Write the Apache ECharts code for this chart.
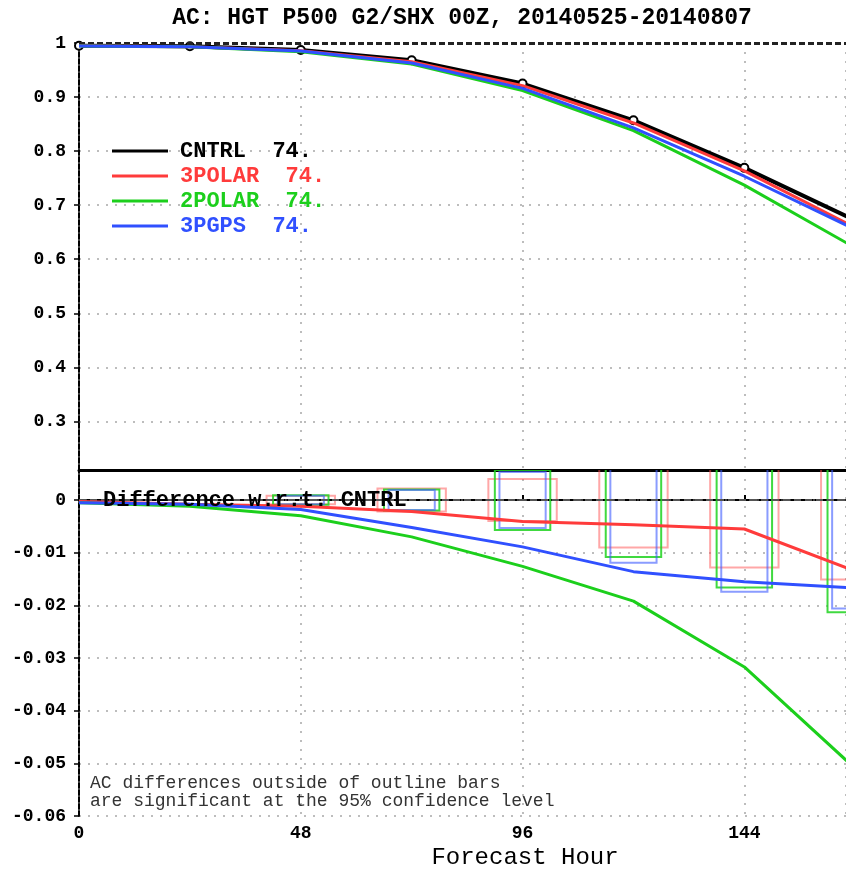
<!DOCTYPE html>
<html>
<head>
<meta charset="utf-8">
<script src="https://cdn.jsdelivr.net/npm/echarts@6/dist/echarts.min.js"></script>
<style>
  html, body { margin: 0; padding: 0; background: #fff; }
  #main { width: 846px; height: 869px; }
</style>
</head>
<body>
<div id="main"></div>
<script>
// forecast hours
var hours = [0, 24, 48, 72, 96, 120, 144, 168];

// anomaly correlation (top panel)
var cntrlAC  = [0.995, 0.994, 0.987, 0.968, 0.925, 0.857, 0.769, 0.672];
var polar3AC = [0.995, 0.993, 0.9855, 0.9655, 0.921, 0.852, 0.7635, 0.6585];
var polar2AC = [0.9945, 0.993, 0.984, 0.961, 0.912, 0.838, 0.737, 0.621];
var pgps3AC  = [0.9945, 0.993, 0.985, 0.963, 0.916, 0.843, 0.7535, 0.655];

// differences w.r.t. CNTRL (bottom panel)
var polar3Diff = [-0.0003, -0.0008, -0.0012, -0.0022, -0.0041, -0.0047, -0.0055, -0.0135];
var polar2Diff = [-0.0005, -0.0012, -0.003, -0.007, -0.0126, -0.0192, -0.0317, -0.051];
var pgps3Diff  = [-0.0005, -0.0008, -0.0018, -0.0052, -0.0089, -0.0136, -0.0155, -0.0167];

// 95% significance bars (half range around zero)
var boxHours   = [48, 72, 96, 120, 144, 168];
var polar3Bar  = [0.0008, 0.0022, 0.004, 0.009, 0.0128, 0.0151];
var polar2Bar  = [0.0009, 0.002, 0.0057, 0.0108, 0.0166, 0.0213];
var pgps3Bar   = [0.0008, 0.0019, 0.0053, 0.0119, 0.0174, 0.0206];

var legendCount = '74.';

var RED = '#ff3b3b', GREEN = '#1ccf1c', BLUE = '#3050ff';
var FONT = '"Liberation Mono", "DejaVu Sans Mono", monospace';

function pairs(xs, ys) {
  return xs.map(function (x, i) { return [x, ys[i]]; });
}

function barSeries(name, half, vals, color) {
  return {
    name: name,
    type: 'custom',
    xAxisIndex: 1,
    yAxisIndex: 1,
    clip: true,
    silent: true,
    z: 3,
    data: boxHours.map(function (h, i) { return [h, -vals[i], vals[i]]; }),
    encode: { x: 0, y: [1, 2] },
    renderItem: function (params, api) {
      var h = api.value(0);
      var a = api.coord([h - half, api.value(2)]);
      var b = api.coord([h + half, api.value(1)]);
      return {
        type: 'rect',
        shape: { x: a[0], y: a[1], width: b[0] - a[0], height: b[1] - a[1] },
        style: { fill: 'none', stroke: color, lineWidth: 2 }
      };
    }
  };
}

function lineSeries(name, data, color, axis) {
  return {
    name: name,
    type: 'line',
    xAxisIndex: axis,
    yAxisIndex: axis,
    data: pairs(hours, data),
    showSymbol: false,
    symbol: 'none',
    lineStyle: { color: color, width: 3 },
    itemStyle: { color: color },
    z: 5
  };
}

var chart = echarts.init(document.getElementById('main'));

var dotted = { show: true, lineStyle: { color: '#bdbdbd', type: [2, 7], width: 2 } };
var tickLabel = { fontFamily: FONT, fontWeight: 'bold', fontSize: 18, color: '#000' };

var option = {
  animation: false,
  backgroundColor: '#fff',
  grid: [
    { left: 79, top: 43, width: 767, height: 427 },
    { left: 79, top: 470, width: 767, height: 346 }
  ],
  xAxis: [
    {
      gridIndex: 0, type: 'value', min: 0, max: 166, interval: 48,
      axisLine: { show: true, lineStyle: { color: '#000', width: 3 } },
      axisTick: { show: false },
      axisLabel: { show: false },
      splitLine: dotted
    },
    {
      gridIndex: 1, type: 'value', min: 0, max: 166, interval: 48,
      axisLine: { show: true, lineStyle: { color: '#000', width: 2, type: [6, 2] } },
      axisTick: { show: true, inside: true, length: 5, lineStyle: { color: '#000', width: 2 } },
      axisLabel: Object.assign({ margin: 8 }, tickLabel, { showMaxLabel: false }),
      splitLine: dotted
    }
  ],
  yAxis: [
    {
      gridIndex: 0, type: 'value', min: 0.21, max: 1, splitNumber: 8,
      axisLine: { show: true, lineStyle: { color: '#000', width: 2, type: [5, 2] } },
      axisTick: { show: true, length: 5, lineStyle: { color: '#000', width: 1.5 } },
      axisLabel: Object.assign({ margin: 13, showMinLabel: false }, tickLabel),
      splitLine: dotted
    },
    {
      gridIndex: 1, type: 'value', min: -0.06, max: 0.0057, splitNumber: 7,
      axisLine: { show: true, lineStyle: { color: '#000', width: 2, type: [5, 2] } },
      axisTick: { show: true, length: 5, lineStyle: { color: '#000', width: 1.5 } },
      axisLabel: Object.assign({
        margin: 13, showMaxLabel: false,
        formatter: function (v) { return Math.abs(v) < 1e-9 ? '0' : v.toFixed(2); }
      }, tickLabel),
      splitLine: dotted
    }
  ],
  legend: {
    orient: 'vertical',
    left: 112,
    top: 140,
    padding: 0,
    icon: 'rect',
    itemWidth: 56,
    itemHeight: 3,
    itemGap: 3,
    selectedMode: false,
    formatter: function (name) { return name + '  ' + legendCount; },
    textStyle: { fontFamily: FONT, fontWeight: 'bold', fontSize: 22, padding: [0, 0, 0, 7] },
    data: [
      { name: 'CNTRL', itemStyle: { color: '#000', borderWidth: 0 }, textStyle: { color: '#000' } },
      { name: '3POLAR', itemStyle: { color: RED }, textStyle: { color: RED } },
      { name: '2POLAR', itemStyle: { color: GREEN }, textStyle: { color: GREEN } },
      { name: '3PGPS', itemStyle: { color: BLUE }, textStyle: { color: BLUE } }
    ]
  },
  graphic: [
    {
      type: 'text', x: 462, y: 18,
      style: {
        text: 'AC: HGT P500 G2/SHX 00Z, 20140525-20140807', font: 'bold 23px ' + FONT,
        fill: '#000', align: 'center', verticalAlign: 'middle'
      }
    },
    {
      type: 'text', x: 103, y: 500, z: 100,
      style: { text: 'Difference w.r.t. CNTRL', font: 'bold 22px ' + FONT, fill: '#000', verticalAlign: 'middle' }
    },
    {
      type: 'text', x: 90, y: 774, z: 100,
      style: {
        text: 'AC differences outside of outline bars\nare significant at the 95% confidence level',
        font: '18px ' + FONT, fill: '#333', lineHeight: 18
      }
    },
    {
      type: 'text', x: 525, y: 858, z: 100,
      style: { text: 'Forecast Hour', font: '24px ' + FONT, fill: '#000', align: 'center', verticalAlign: 'middle' }
    }
  ],
  series: [
    {
      name: 'CNTRL',
      type: 'line',
      xAxisIndex: 0,
      yAxisIndex: 0,
      data: pairs(hours, cntrlAC),
      symbol: 'emptyCircle',
      symbolSize: 8,
      showSymbol: true,
      lineStyle: { color: '#000', width: 4 },
      itemStyle: { color: '#000', borderColor: '#000', borderWidth: 2.5 },
      z: 4,
      markLine: {
        silent: true, symbol: 'none', label: { show: false },
        lineStyle: { color: '#222', type: [6, 3], width: 3 },
        data: [{ yAxis: 1 }]
      }
    },
    lineSeries('3POLAR', polar3AC, RED, 0),
    lineSeries('2POLAR', polar2AC, GREEN, 0),
    lineSeries('3PGPS', pgps3AC, BLUE, 0),

    barSeries('3POLAR bar', 7.4, polar3Bar, 'rgba(255,80,80,0.5)'),
    barSeries('2POLAR bar', 6.0, polar2Bar, 'rgba(30,210,30,0.85)'),
    barSeries('3PGPS bar', 5.0, pgps3Bar, 'rgba(60,90,255,0.6)'),

    Object.assign(lineSeries('3POLAR diff', polar3Diff, RED, 1), {
      markLine: {
        silent: true, symbol: 'none', label: { show: false },
        lineStyle: { color: '#555', type: [7, 4], width: 2 },
        data: [{ yAxis: 0 }]
      }
    }),
    lineSeries('2POLAR diff', polar2Diff, GREEN, 1),
    lineSeries('3PGPS diff', pgps3Diff, BLUE, 1)
  ]
};

chart.setOption(option);
</script>
</body>
</html>
